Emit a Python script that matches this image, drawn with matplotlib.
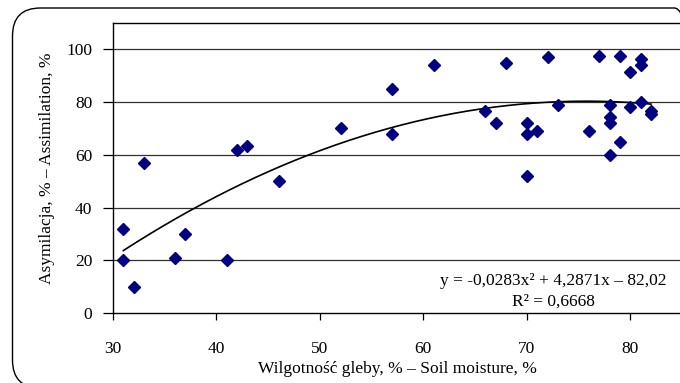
import matplotlib
matplotlib.use("Agg")
import matplotlib.pyplot as plt
import numpy as np
from matplotlib.patches import FancyBboxPatch

# Soil moisture (%) vs assimilation (%)
moisture = [31, 31, 32, 33, 36, 37, 41, 42, 43, 46, 52, 57, 57, 61,
            66, 67, 68, 70, 70, 70, 71, 72, 73, 76, 77, 78, 78, 78, 78,
            79, 79, 80, 80, 81, 81, 81, 82, 82]
assimilation = [32, 20, 10, 57, 21, 30, 20, 62, 63.5, 50, 70, 85, 68, 94,
                76.6, 72, 95, 72, 68, 52, 69, 97, 79, 69, 97.6, 79, 74.5, 72, 60,
                97.6, 65, 91.5, 78, 96.5, 94, 80, 76.6, 75.5]

# polynomial trend line coefficients as printed on the chart
trend_coef = [-0.0283, 4.2871, -82.02]
trend_range = (31, 82)

x_ticks = [30, 40, 50, 60, 70, 80]
y_ticks = [0, 20, 40, 60, 80, 100]

plt.rcParams['font.family'] = ['Liberation Serif', 'DejaVu Serif']
plt.rcParams['font.size'] = 12.5

fig = plt.figure(figsize=(6.8, 3.83), dpi=100)

# rounded chart-area border, in inches so corners stay round
# (runs off the right/bottom edge like the original)
border = FancyBboxPatch((0.125, -0.05), 6.9, 3.80,
                        boxstyle="round,pad=0,rounding_size=0.28",
                        transform=fig.dpi_scale_trans, fill=False,
                        edgecolor='black', linewidth=1.0)
fig.patches.append(border)

ax = fig.add_axes([113 / 680, 70 / 383, 569 / 680, 290 / 383])
ax.set_xlim(30, 85)
ax.set_ylim(0, 110)

for v in y_ticks[1:]:
    ax.axhline(v, color='#303030', linewidth=0.9, zorder=1)

ax.plot(moisture, assimilation, linestyle='none', marker='D', markersize=6.2,
        color='#000080', zorder=3)

xs = np.linspace(trend_range[0], trend_range[1], 200)
ax.plot(xs, np.polyval(trend_coef, xs), color='black', linewidth=1.2, zorder=2)

ax.set_xticks(x_ticks)
ax.set_yticks(y_ticks)
ax.tick_params(axis='x', direction='out', length=5, width=0.9, pad=15)
ax.tick_params(axis='y', direction='out', length=7, width=0.9, pad=8)
for s in ax.spines.values():
    s.set_linewidth(1.0)
    s.set_color('black')

ax.set_xlabel('Wilgotność gleby, % – Soil moisture, %', labelpad=3)
fig.text(47 / 680, 1 - 168 / 383, 'Asymilacja, % – Assimilation, %',
         rotation=90, ha='center', va='center')

fig.text(553 / 680, 1 - 281 / 383, 'y = -0,0283x² + 4,2871x – 82,02',
         ha='center', va='center')
fig.text(553 / 680, 1 - 302 / 383, 'R² = 0,6668', ha='center', va='center')

fig.savefig('out.png', dpi=100)
